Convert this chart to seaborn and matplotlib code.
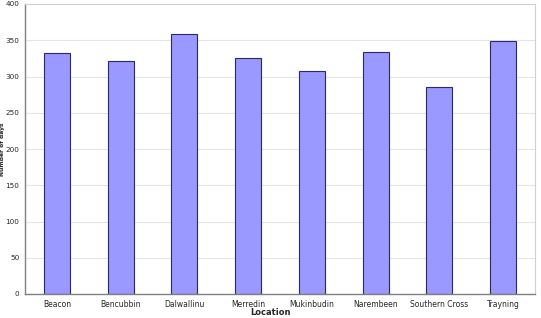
import numpy as np
import pandas as pd
import matplotlib
matplotlib.use("Agg")
import matplotlib.pyplot as plt
import seaborn as sns

# --- data ---
locations = ["Beacon", "Bencubbin", "Dalwallinu", "Merredin",
             "Mukinbudin", "Narembeen", "Southern Cross", "Trayning"]
days = [332, 321, 358, 326, 308, 334, 286, 349]

df = pd.DataFrame({"Location": locations, "Days": days})

sns.set_style("white")
plt.rcParams["font.family"] = ["DejaVu Sans"]

W, H = 541, 318
fig = plt.figure(figsize=(W / 100, H / 100), dpi=100)
ax = fig.add_axes([25 / W, 24 / H, 510 / W, 290 / H])

sns.barplot(data=df, x="Location", y="Days", color="#9999FF",
            edgecolor="#2a2a66", linewidth=0.8, width=0.41, saturation=1, ax=ax)

ax.set_ylim(0, 400)
ax.set_xlim(-0.5, len(locations) - 0.5)
ax.set_yticks(range(0, 401, 50))
ax.yaxis.grid(True, color="#e4e4e4", linewidth=0.8)
ax.set_axisbelow(True)

# ticks between categories on the x-axis
ax.set_xticks(np.arange(-0.5, len(locations), 1), minor=False)
ax.set_xticklabels([])
ax.set_xticks(range(len(locations)), minor=True)
ax.set_xticklabels(locations, minor=True)
ax.tick_params(axis="x", which="minor", length=0, labelsize=5.5, pad=4)
ax.tick_params(axis="x", which="major", length=3, width=0.8, color="#808080")
ax.tick_params(axis="y", length=3, width=0.8, color="#808080", labelsize=5.2, pad=1)

for s in ["left", "bottom"]:
    ax.spines[s].set_color("#808080")
    ax.spines[s].set_linewidth(1.0)
for s in ["top", "right"]:
    ax.spines[s].set_color("#d0d0d0")
    ax.spines[s].set_linewidth(0.8)

# axis titles sit right at the figure edges, as in the reference
ax.set_xlabel("")
ax.set_ylabel("")
fig.text(0.5, 1 / H, "Location", fontsize=6, fontweight="bold",
         ha="center", va="bottom")
fig.text(0, 0.5 + 10 / H, "Number of days", fontsize=4.3, fontweight="bold",
         rotation=90, ha="left", va="center")

fig.savefig("out.png", dpi=100)
